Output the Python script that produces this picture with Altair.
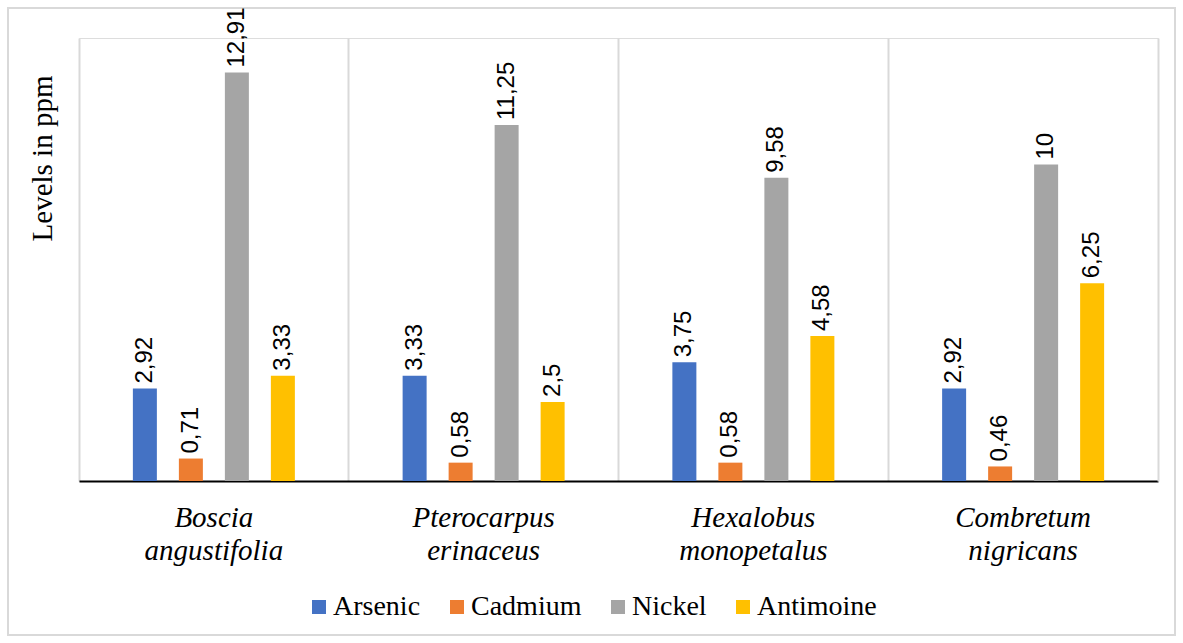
import altair as alt
import pandas as pd

species = ["Boscia angustifolia", "Pterocarpus erinaceus", "Hexalobus monopetalus", "Combretum nigricans"]
metals = ["Arsenic", "Cadmium", "Nickel", "Antimoine"]
arsenic = [2.92, 3.33, 3.75, 2.92]
cadmium = [0.71, 0.58, 0.58, 0.46]
nickel = [12.91, 11.25, 9.58, 10]
antimoine = [3.33, 2.5, 4.58, 6.25]
colors = ["#4472C4", "#ED7D31", "#A5A5A5", "#FFC000"]

rows = []
for m, vals in zip(metals, [arsenic, cadmium, nickel, antimoine]):
    for s, v in zip(species, vals):
        rows.append({"species": s, "metal": m, "value": v})
df = pd.DataFrame(rows)

W, H = 1079, 443
serif = "Liberation Serif"
sans = "Liberation Sans"

x_enc = alt.X("species:N", sort=species,
              scale=alt.Scale(paddingInner=0, paddingOuter=0),
              axis=alt.Axis(title=None, orient="bottom", labelExpr="split(datum.label, ' ')",
                            labelFont=serif, labelFontSize=29, labelFontStyle="italic",
                            labelColor="black", labelLineHeight=33, labelPadding=22,
                            ticks=False, domainColor="black", domainWidth=2, grid=False,
                            labelAngle=0))
xo_scale = alt.Scale(paddingInner=0.136, paddingOuter=1)
xo_enc = alt.XOffset("metal:N", sort=metals, scale=xo_scale)
y_enc = alt.Y("value:Q", scale=alt.Scale(domain=[0, 14], nice=False, zero=True),
              axis=alt.Axis(title="Levels in ppm", orient="left", labels=False, ticks=False,
                            domain=False, grid=False, titleFont=serif, titleFontSize=29,
                            titleFontWeight="normal", titleColor="black", titleAngle=270,
                            titleX=-37, titleY=120, titleAlign="center", titleBaseline="middle"))

bars = alt.Chart(df).mark_bar(width=24).encode(
    x=x_enc, xOffset=xo_enc, y=y_enc,
    color=alt.Color("metal:N", sort=metals, scale=alt.Scale(domain=metals, range=colors),
                    legend=alt.Legend(title=None, orient="none", direction="horizontal",
                                      legendX=226, legendY=555, symbolType="square",
                                      symbolSize=196, symbolStrokeWidth=0, labelFont=serif,
                                      labelFontSize=28, labelColor="black", columnPadding=22,
                                      labelOffset=0)),
)

grid = alt.Chart(df).mark_bar(opacity=0).encode(
    x=alt.X("species:N", sort=species,
            axis=alt.Axis(title=None, orient="top", labels=False, ticks=False, domain=False,
                          grid=True, gridColor="#d9d9d9", gridWidth=2, bandPosition=0)),
    y=alt.Y("value:Q", axis=alt.Axis(title=None, orient="right", labels=False, ticks=False,
                                     grid=False, domain=True, domainColor="#d9d9d9",
                                     domainWidth=2)),
)

labels = alt.Chart(df).transform_calculate(
    lab="replace(toString(datum.value), '.', ',')"
).mark_text(angle=270, align="left", baseline="middle", dx=5, font=sans, fontSize=24,
            color="black").encode(
    x=alt.X("species:N", sort=species, axis=None),
    xOffset=alt.XOffset("metal:N", sort=metals),
    y=alt.Y("value:Q", axis=None), text="lab:N",
)

frame = alt.Chart(alt.Data(values=[{"a": 1}])).mark_rect(
    fillOpacity=0, stroke="#d9d9d9", strokeWidth=2
).encode(x=alt.value(-71), x2=alt.value(1096), y=alt.value(-30), y2=alt.value(597))

chart = alt.layer(frame, grid, bars, labels).resolve_axis(x="independent", y="independent").properties(
    width=W, height=H,
    autosize=alt.AutoSizeParams(type="none"),
    padding={"left": 79, "top": 38, "right": 25, "bottom": 162},
).configure_view(stroke=None).configure(background="white")

chart.save("out.html", embed_options={"renderer": "svg", "actions": False})
